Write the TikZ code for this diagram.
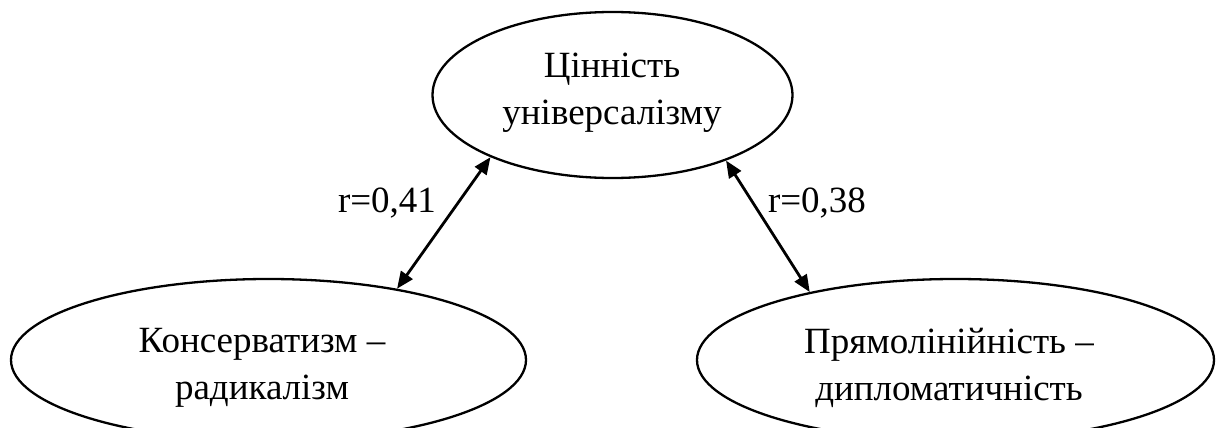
\documentclass[tikz,border=0pt]{standalone}
\usepackage{fontspec}
\setmainfont{Liberation Serif}
\usetikzlibrary{shapes.geometric,arrows.meta}
\begin{document}
\begin{tikzpicture}[x=1pt,y=-1pt,
  ell/.style={draw=black,line width=2.3pt,ellipse,inner sep=0pt},
  txt/.style={align=center,inner sep=0pt,font=\fontsize{37}{47}\selectfont},
  lbl/.style={font=\fontsize{37}{44}\selectfont,inner sep=0pt},
  link/.style={line width=2.8pt,{Triangle[length=17pt,width=14pt]}-{Triangle[length=17pt,width=14pt]}}]
\useasboundingbox (0,0) rectangle (1221,428);
\node[ell,minimum width=360pt,minimum height=166pt] (top) at (612.5,95) {};
\node[ell,minimum width=515pt,minimum height=162pt] (left) at (268.5,360) {};
\node[ell,minimum width=517pt,minimum height=162pt] (right) at (955.5,360) {};
\node[txt] (ttop) at (612,93) {Цінність\\універсалізму};
\node[txt] (tleft) at (262,368) {Консерватизм –\\радикалізм};
\node[txt] (tright) at (949,368) {Прямолінійність –\\дипломатичність};
\draw[link] (left.29.3) -- (top.207.2);
\draw[link] (top.330.1) -- (right.155.25);
\node[lbl] (l1) at (387,203) {r=0,41};
\node[lbl] (l2) at (817,203) {r=0,38};
\end{tikzpicture}
\end{document}
